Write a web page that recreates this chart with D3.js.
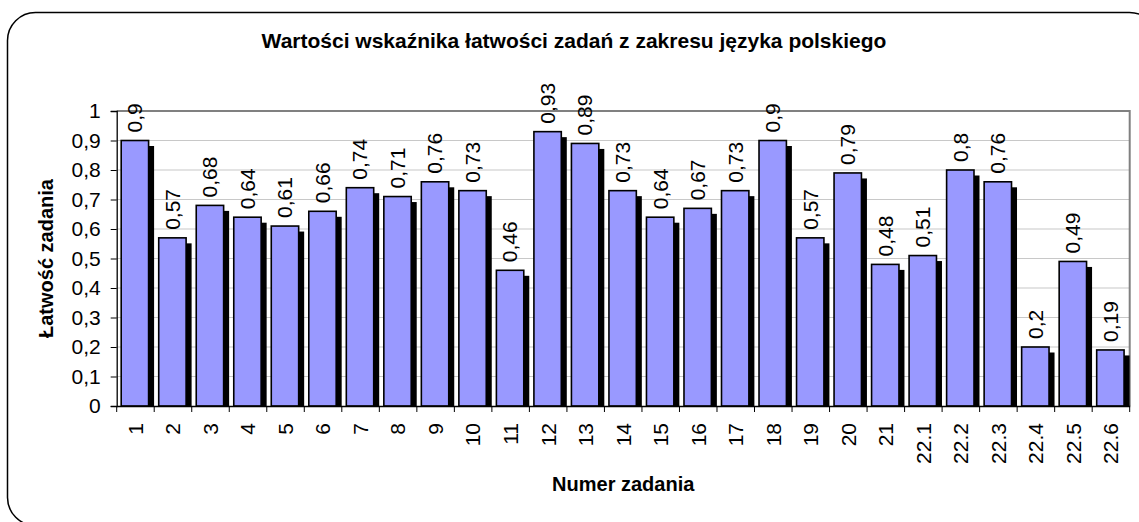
<!DOCTYPE html>
<html lang="pl">
<head>
  <meta charset="UTF-8" />
  <title>Wartości wskaźnika łatwości zadań</title>
  <script src="https://d3js.org/d3.v7.min.js"></script>
  <style>
    body { margin: 0; padding: 0; background: #fff; }
    svg { display: block; font-family: Arial, "Liberation Sans", sans-serif; }
    .tick-label { font-size: 21px; fill: #000; }
    .bar-label { font-size: 21px; fill: #000; }
    .axis-title { font-size: 20px; font-weight: bold; fill: #000; }
    .chart-title { font-size: 21px; font-weight: bold; fill: #000; }
  </style>
</head>
<body>
  <svg width="1139" height="522"></svg>
  <script>
    const tasks = ["1", "2", "3", "4", "5", "6", "7", "8", "9", "10", "11", "12", "13", "14",
      "15", "16", "17", "18", "19", "20", "21", "22.1", "22.2", "22.3", "22.4", "22.5", "22.6"];
    const easiness = [0.9, 0.57, 0.68, 0.64, 0.61, 0.66, 0.74, 0.71, 0.76, 0.73, 0.46, 0.93, 0.89, 0.73,
      0.64, 0.67, 0.73, 0.9, 0.57, 0.79, 0.48, 0.51, 0.8, 0.76, 0.2, 0.49, 0.19];
    const yTicks = [0, 0.1, 0.2, 0.3, 0.4, 0.5, 0.6, 0.7, 0.8, 0.9, 1];

    const data = tasks.map((t, i) => ({ task: t, value: easiness[i] }));
    const fmt = v => String(v).replace(".", ",");

    const svg = d3.select("svg");
    const plotLeft = 116.7, plotRight = 1129.7, plotTop = 111, plotBottom = 406;

    // chart area frame (runs past the right and bottom edges)
    svg.append("rect")
      .attr("x", 7.5).attr("y", 12.5)
      .attr("width", 1150).attr("height", 513)
      .attr("rx", 28).attr("ry", 28)
      .attr("fill", "none").attr("stroke", "#000").attr("stroke-width", 1.5);

    const x = d3.scaleBand().domain(tasks).range([plotLeft, plotRight]).padding(0);
    const y = d3.scaleLinear().domain([0, 1]).range([plotBottom, plotTop]);

    const g = svg.append("g");

    // gridlines
    g.selectAll(".grid")
      .data(yTicks.filter(v => v > 0 && v < 1))
      .enter().append("line")
      .attr("x1", plotLeft).attr("x2", plotRight)
      .attr("y1", d => y(d)).attr("y2", d => y(d))
      .attr("stroke", "#c8c8c8").attr("stroke-width", 1.2);

    // plot border top & right
    g.append("path")
      .attr("d", `M${plotLeft},${y(1)}H${plotRight}V${plotBottom}`)
      .attr("fill", "none").attr("stroke", "#808080").attr("stroke-width", 2);

    const bw = x.bandwidth();
    const barX = d => x(d.task) + bw * 0.12;
    const barW = bw * 0.73;
    const off = 5.5;

    // shadows
    g.selectAll(".shadow")
      .data(data).enter().append("rect")
      .attr("x", d => barX(d) + off)
      .attr("y", d => y(d.value) + off)
      .attr("width", barW)
      .attr("height", d => Math.max(0, plotBottom - y(d.value) - off))
      .attr("fill", "#000");

    // bars
    g.selectAll(".bar")
      .data(data).enter().append("rect")
      .attr("x", barX)
      .attr("y", d => y(d.value))
      .attr("width", barW)
      .attr("height", d => plotBottom - y(d.value))
      .attr("fill", "#9999ff")
      .attr("stroke", "#000").attr("stroke-width", 1.6);

    // value labels
    g.selectAll(".bar-label")
      .data(data).enter().append("text")
      .attr("class", "bar-label")
      .attr("transform", d => `translate(${barX(d) + barW / 2},${y(d.value) - 8}) rotate(-90)`)
      .attr("dy", "0.35em")
      .text(d => fmt(d.value));

    // y axis
    const yAxis = g.append("g").attr("transform", `translate(${plotLeft},0)`)
      .call(d3.axisLeft(y).tickValues(yTicks).tickSize(6).tickPadding(10).tickFormat(fmt));
    yAxis.attr("font-size", null).attr("font-family", null);
    yAxis.select(".domain").attr("stroke", "#000").attr("stroke-width", 1.3);
    yAxis.selectAll(".tick line").attr("stroke", "#000");
    yAxis.selectAll(".tick text").attr("class", "tick-label");

    // x axis
    const xAxis = g.append("g").attr("transform", `translate(0,${plotBottom})`)
      .call(d3.axisBottom(x).tickSize(0).tickPadding(0));
    xAxis.attr("font-size", null).attr("font-family", null);
    xAxis.select(".domain").attr("stroke", "#000").attr("stroke-width", 1.3);
    xAxis.selectAll(".tick text")
      .attr("class", "tick-label")
      .attr("y", 0)
      .attr("transform", "translate(0,17) rotate(-90)")
      .attr("text-anchor", "end")
      .attr("dy", "0.35em");
    // tick marks at band boundaries
    xAxis.selectAll(".bound")
      .data(d3.range(tasks.length + 1)).enter().append("line")
      .attr("x1", i => plotLeft + i * x.step()).attr("x2", i => plotLeft + i * x.step())
      .attr("y1", 0).attr("y2", 6)
      .attr("stroke", "#000");

    // titles
    svg.append("text")
      .attr("class", "chart-title")
      .attr("x", 574).attr("y", 48)
      .attr("text-anchor", "middle")
      .text("Wartości wskaźnika łatwości zadań z zakresu języka polskiego");

    svg.append("text")
      .attr("class", "axis-title")
      .attr("transform", `translate(53,${(plotTop + plotBottom) / 2}) rotate(-90)`)
      .attr("text-anchor", "middle")
      .text("Łatwość zadania");

    svg.append("text")
      .attr("class", "axis-title")
      .attr("x", (plotLeft + plotRight) / 2).attr("y", 491)
      .attr("text-anchor", "middle")
      .text("Numer zadania");
  </script>
</body>
</html>
